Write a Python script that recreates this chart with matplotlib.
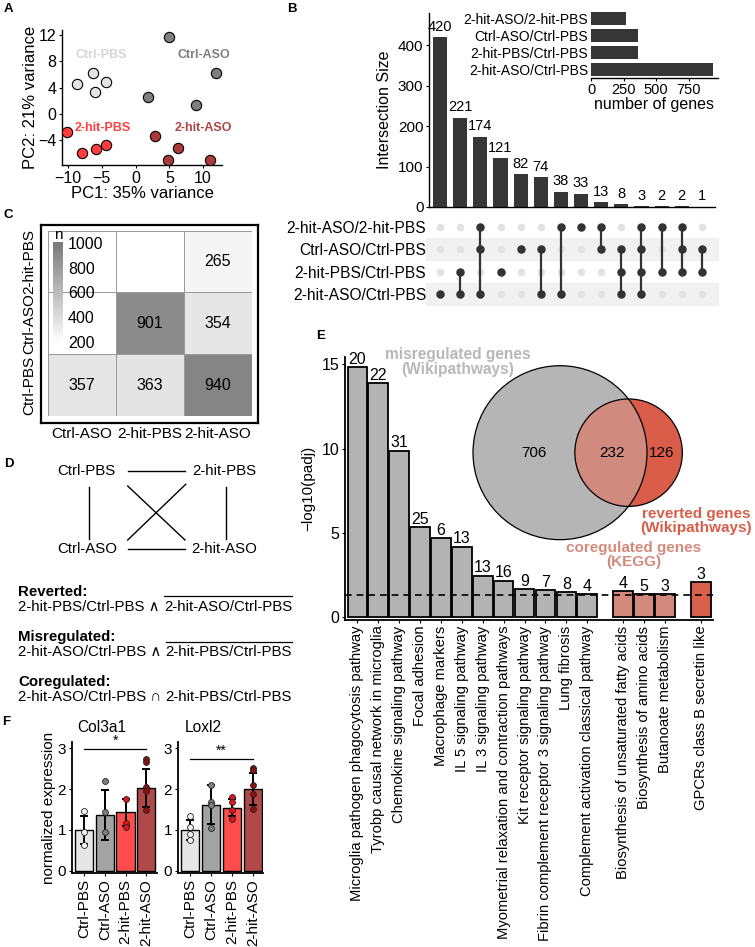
import numpy as np
import matplotlib
matplotlib.use("Agg")
import matplotlib.pyplot as plt
from matplotlib.colors import LinearSegmentedColormap, Normalize
from matplotlib.patches import Circle

plt.rcParams['font.family'] = ['Liberation Sans', 'DejaVu Sans']
plt.rcParams['font.size'] = 9
plt.rcParams['axes.linewidth'] = 1.0

W, H = 755, 947

# ---------------- data ----------------
# A: PCA
pca_group = ["Ctrl-PBS"] * 4 + ["Ctrl-ASO"] * 4 + ["2-hit-PBS"] * 4 + ["2-hit-ASO"] * 4
pc1 = [-8.75, -6.25, -4.4, -6.0, 5.0, 11.85, 1.9, 8.9, -10.1, -8.0, -5.9, -4.35, 2.9, 6.3, 4.75, 11.0]
pc2 = [4.5, 6.3, 4.9, 3.3, 11.8, 6.3, 2.6, 1.3, -2.8, -5.9, -5.4, -4.7, -3.3, -5.2, -7.0, -7.1]
groups = ["Ctrl-PBS", "Ctrl-ASO", "2-hit-PBS", "2-hit-ASO"]
group_colors = ["#e3e3e3", "#7f7f7f", "#ff3d3d", "#ab3a3a"]
label_colors = ["#d6d6d6", "#7f7f7f", "#ff4040", "#b04444"]
label_pos = [(-5.15, 9.0), (10.1, 9.0), (-4.9, -2.1), (10.0, -2.1)]

# B: upset
upset_sets = ["2-hit-ASO/2-hit-PBS", "Ctrl-ASO/Ctrl-PBS", "2-hit-PBS/Ctrl-PBS", "2-hit-ASO/Ctrl-PBS"]
set_sizes = [265, 357, 363, 940]
intersection_sizes = [420, 221, 174, 121, 82, 74, 38, 33, 13, 8, 3, 2, 2, 1]
intersection_members = [[3], [2, 3], [0, 1, 3], [2], [1], [1, 3], [0, 3], [0], [0, 1],
                        [1, 2, 3], [0, 1, 2, 3], [0, 2], [0, 1, 2], [1, 2]]

# C: heatmap (rows bottom -> top)
hm_cols = ["Ctrl-ASO", "2-hit-PBS", "2-hit-ASO"]
hm_rows = ["Ctrl-PBS", "Ctrl-ASO", "2-hit-PBS"]
hm_vals = [[357, 363, 940],
           [np.nan, 901, 354],
           [np.nan, np.nan, 265]]

# E: pathways
pathways = ["Microglia pathogen phagocytosis pathway", "Tyrobp causal network in microglia",
            "Chemokine signaling pathway", "Focal adhesion", "Macrophage markers",
            "IL 5 signaling pathway", "IL 3 signaling pathway",
            "Myometrial relaxation and contraction pathways", "Kit receptor signaling pathway",
            "Fibrin complement receptor 3 signaling pathway", "Lung fibrosis",
            "Complement activation classical pathway", "Biosynthesis of unsaturated fatty acids",
            "Biosynthesis of amino acids", "Butanoate metabolism", "GPCRs class B secretin like"]
neg_log_padj = [14.85, 13.88, 9.87, 5.35, 4.67, 4.18, 2.45, 2.16, 1.64, 1.60, 1.47, 1.37,
                1.53, 1.37, 1.37, 2.08]
gene_counts = [20, 22, 31, 25, 6, 13, 13, 16, 9, 7, 8, 4, 4, 5, 3, 3]
pathway_group = [0] * 12 + [1] * 3 + [2]
pathway_colors = ["#b3b3b3", "#d38a7d", "#d9604b"]
venn_only_mis, venn_both, venn_only_rev = 706, 232, 126

# F: qPCR
f_groups = ["Ctrl-PBS", "Ctrl-ASO", "2-hit-PBS", "2-hit-ASO"]
col3a1_mean = [1.0, 1.37, 1.43, 2.03]
col3a1_sd = [0.35, 0.62, 0.33, 0.47]
col3a1_pts = [[1.47, 0.95, 0.64], [2.21, 1.43, 0.94], [1.76, 1.18, 1.07], [2.73, 2.67, 2.05, 1.95, 1.5]]
loxl2_mean = [1.0, 1.62, 1.55, 2.0]
loxl2_sd = [0.25, 0.47, 0.2, 0.4]
loxl2_pts = [[1.33, 1.07, 0.89, 0.75], [2.11, 1.68, 1.6, 1.06], [1.8, 1.68, 1.48, 1.28],
             [2.52, 2.46, 2.1, 1.87, 1.52]]
bar_colors_f = ["#e6e6e6", "#a3a3a3", "#ff4d4d", "#b04a4a"]
pt_colors_f = ["#f5f5f5", "#7f7f7f", "#e0141e", "#8b1212"]


def px(l, t, r, b):
    return [l / W, 1 - b / H, (r - l) / W, (b - t) / H]


fig = plt.figure(figsize=(W / 100, H / 100), dpi=100)

# ---------------- A ----------------
ax = fig.add_axes(px(62, 30, 222, 165))
for g, c in zip(groups, group_colors):
    idx = [i for i, gg in enumerate(pca_group) if gg == g]
    ax.scatter([pc1[i] for i in idx], [pc2[i] for i in idx], s=55, color=c,
               edgecolor="black", linewidth=0.8, zorder=3)
for g, c, (lx, ly) in zip(groups, label_colors, label_pos):
    ax.text(lx, ly, g, color=c, fontsize=9, fontweight="bold", ha="center", va="center")
ax.set_xlim(-10.9, 12.8)
ax.set_ylim(-7.8, 12.8)
ax.set_xticks([-10, -5, 0, 5, 10])
ax.set_yticks([-4, 0, 4, 8, 12])
ax.tick_params(labelsize=11.5, length=2.5, pad=1.5)
for s in ["top", "right"]:
    ax.spines[s].set_visible(False)
ax.set_xlabel("PC1: 35% variance", fontsize=12, labelpad=0)
ax.set_ylabel("PC2: 21% variance", fontsize=12, labelpad=0)

# ---------------- B ----------------
ncol = len(intersection_sizes)
xs = np.arange(ncol)
axb = fig.add_axes(px(429, 13, 715, 207))
axb.bar(xs, intersection_sizes, width=0.7, color="#363636")
for x, v in zip(xs, intersection_sizes):
    axb.text(x, v + 8, str(v), ha="center", va="bottom", fontsize=10.5)
axb.set_xlim(-0.55, ncol - 1 + 0.65)
axb.set_ylim(0, 480)
axb.set_yticks([0, 100, 200, 300, 400])
axb.set_xticks([])
axb.tick_params(labelsize=11, length=2.5, pad=1.5)
for s in ["top", "right"]:
    axb.spines[s].set_visible(False)
axb.set_ylabel("Intersection Size", fontsize=11.5, labelpad=4)

axi = fig.add_axes(px(591, 10, 718, 78))
axi.barh(range(len(upset_sets)), set_sizes, height=0.82, color="#363636")
axi.set_ylim(len(upset_sets) - 0.5, -0.5)
axi.set_xlim(0, 975)
axi.set_yticks(range(len(upset_sets)))
axi.set_yticklabels(upset_sets, fontsize=10)
axi.set_xticks([0, 250, 500, 750])
axi.tick_params(axis="y", length=0, pad=2)
axi.tick_params(axis="x", labelsize=10.5, length=2.5, pad=1)
for s in ["top", "right", "left"]:
    axi.spines[s].set_visible(False)
axi.set_xlabel("number of genes", fontsize=11.5, labelpad=0)

axm = fig.add_axes(px(429, 216, 715, 305))
for r in range(len(upset_sets)):
    if r % 2 == 1:
        axm.axhspan(r - 0.5, r + 0.5, xmin=-0.01, xmax=1.01, color="#f1f1f1", zorder=0,
                    clip_on=False)
for x, mem in zip(xs, intersection_members):
    inactive = [r for r in range(len(upset_sets)) if r not in mem]
    axm.scatter([x] * len(inactive), inactive, s=20, color="#e2e2e2", zorder=2)
    axm.plot([x, x], [min(mem), max(mem)], color="#333333", lw=1.6, zorder=3)
    axm.scatter([x] * len(mem), mem, s=26, color="#333333", zorder=4)
axm.set_xlim(axb.get_xlim())
axm.set_ylim(len(upset_sets) - 0.5, -0.5)
axm.set_xticks([])
axm.set_yticks(range(len(upset_sets)))
axm.set_yticklabels(upset_sets, fontsize=11.2)
axm.tick_params(axis="y", length=0, pad=2)
for s in axm.spines.values():
    s.set_visible(False)

# ---------------- C ----------------
cmap = LinearSegmentedColormap.from_list("wg", ["#ffffff", "#7b7b7b"])
norm = Normalize(200, 1000)
frame = fig.add_axes(px(41, 224.5, 258, 423.5))
frame.set_xticks([])
frame.set_yticks([])
for s in frame.spines.values():
    s.set_linewidth(1.6)
axc = fig.add_axes(px(47.7, 230.7, 251.7, 416))
vals = np.ma.masked_invalid(np.array(hm_vals, dtype=float))
axc.pcolormesh(np.arange(4), np.arange(4), vals, cmap=cmap, norm=norm,
               edgecolors="#9a9a9a", linewidth=0.6)
for i in range(3):
    for j in range(3):
        if not np.isnan(hm_vals[i][j]):
            axc.text(j + 0.5, i + 0.5, str(int(hm_vals[i][j])), ha="center", va="center",
                     fontsize=11.5)
axc.set_xlim(0, 3)
axc.set_ylim(0, 3)
axc.set_xticks(np.arange(3) + 0.5)
axc.set_xticklabels(hm_cols, fontsize=11)
axc.set_yticks(np.arange(3) + 0.5)
axc.set_yticklabels(hm_rows, fontsize=11, rotation=90, va="center")
axc.tick_params(length=0, pad=8)
axc.tick_params(axis="y", pad=8)
for s in axc.spines.values():
    s.set_visible(False)

axcb = fig.add_axes(px(53, 241.7, 63, 346.7))
grad = np.linspace(159, 1013, 256).reshape(-1, 1)
axcb.imshow(grad, cmap=cmap, norm=norm, aspect="auto", origin="lower",
            extent=[0, 1, 159, 1013])
axcb.set_ylim(159, 1013)
axcb.set_xticks([])
axcb.yaxis.tick_right()
axcb.set_yticks([200, 400, 600, 800, 1000])
axcb.tick_params(axis="y", length=0, pad=3.5, labelsize=11.5)
for s in axcb.spines.values():
    s.set_visible(False)
axcb.set_title("n", fontsize=11, pad=0)

# ---------------- E ----------------
axe = fig.add_axes(px(345, 357.3, 713.3, 620))
pos = np.array([i + 0.72 * g for i, g in enumerate(pathway_group)])
cols = [pathway_colors[g] for g in pathway_group]
axe.bar(pos, neg_log_padj, width=0.94, color=cols, edgecolor="black", linewidth=1.3, zorder=2)
for x, v, n in zip(pos, neg_log_padj, gene_counts):
    axe.text(x, v + 0.02, str(n), ha="center", va="bottom", fontsize=11.5)
axe.axhline(-np.log10(0.05), color="black", lw=1.2, ls=(0, (4, 3)), zorder=3)
axe.set_xlim(-0.59, pos[-1] + 0.59)
axe.set_ylim(-0.18, 15.42)
axe.set_yticks([0, 5, 10, 15])
axe.set_xticks(pos)
axe.set_xticklabels(pathways, rotation=90)
axe.tick_params(labelsize=11.5, length=2.5, pad=1.5)
axe.tick_params(axis="x", labelsize=10.6)
for s in ["top", "right"]:
    axe.spines[s].set_visible(False)
axe.spines["left"].set_linewidth(1.3)
axe.spines["bottom"].set_linewidth(1.3)
axe.set_ylabel("\u2212log10(padj)", fontsize=11, labelpad=5)


# ---------------- F ----------------
def qpcr(rect, means, sds, pts, sig, sig_y):
    a = fig.add_axes(px(*rect))
    x = np.arange(len(f_groups))
    a.bar(x, means, width=0.88, color=bar_colors_f, edgecolor="black", linewidth=1.0, zorder=2)
    a.errorbar(x, means, yerr=sds, fmt="none", ecolor="black", elinewidth=1.4, capsize=3,
               capthick=1.4, zorder=3)
    for xi, p, c in zip(x, pts, pt_colors_f):
        a.scatter([xi] * len(p), p, s=18, color=c, edgecolor="#222222", linewidth=0.6, zorder=4)
    a.plot([0, 3], [sig_y, sig_y], color="black", lw=0.9)
    a.text(1.5, sig_y + 0.02, sig, ha="center", va="bottom", fontsize=10)
    a.set_xlim(-0.6, 3.5)
    a.set_ylim(-0.06, 3.16)
    a.set_yticks([0, 1, 2, 3])
    a.set_xticks(x)
    a.set_xticklabels(f_groups, rotation=90, fontsize=11)
    a.tick_params(labelsize=11, length=2.5, pad=1.5)
    for s in ["top", "right"]:
        a.spines[s].set_visible(False)
    a.spines["left"].set_linewidth(1.3)
    a.spines["bottom"].set_linewidth(1.3)
    return a


axf1 = qpcr((71.7, 741.7, 156.7, 873.3), col3a1_mean, col3a1_sd, col3a1_pts, "*", 2.98)
axf1.set_ylabel("normalized expression", fontsize=11, labelpad=1)
axf2 = qpcr((177.7, 741.7, 263.3, 873.3), loxl2_mean, loxl2_sd, loxl2_pts, "**", 2.74)

# ---------------- overlay: labels, D, Venn ----------------
ov = fig.add_axes([0, 0, 1, 1])
ov.set_xlim(0, W)
ov.set_ylim(H, 0)
ov.axis("off")

for lab, (x, y) in zip("ABCDEF", [(4, 9), (287, 9), (4, 215), (4, 464), (316, 336), (2, 722)]):
    ov.text(x, y, lab, fontsize=9.5, fontweight="bold", ha="left", va="center")

ov.text(101.7, 727.3, "Col3a1", fontsize=11.2, ha="center", va="center")
ov.text(203.3, 727.3, "Loxl2", fontsize=11.2, ha="center", va="center")

# D: comparison diagram
for name, (x, y) in zip(groups, [(86.7, 470.7), (87.3, 549.3), (224, 470.7), (224, 549.3)]):
    ov.text(x, y, name, fontsize=10.8, ha="center", va="center")
lk = dict(color="black", lw=1.0)
ov.plot([127.7, 185], [470.7, 470.7], **lk)
ov.plot([127.7, 185], [549.3, 549.3], **lk)
ov.plot([89, 89], [486.7, 539.3], **lk)
ov.plot([226, 226], [486.7, 539.3], **lk)
ov.plot([127.7, 185], [486, 540], **lk)
ov.plot([127.7, 185.7], [540, 484.3], **lk)

renderer = fig.canvas.get_renderer()
rules = [("Reverted:", "2-hit-PBS/Ctrl-PBS \u2227", "2-hit-ASO/Ctrl-PBS", True),
         ("Misregulated:", "2-hit-ASO/Ctrl-PBS \u2227", "2-hit-PBS/Ctrl-PBS", True),
         ("Coregulated:", "2-hit-ASO/Ctrl-PBS \u2229", "2-hit-PBS/Ctrl-PBS", False)]
for k, (head, a, b, bar) in enumerate(rules):
    y0 = 591.7 + k * 45.3
    ov.text(18.3, y0, head, fontsize=10.8, fontweight="bold", ha="left", va="center")
    t1 = ov.text(18.3, y0 + 15, a, fontsize=10.8, ha="left", va="center")
    bb = t1.get_window_extent(renderer=renderer)
    t2 = ov.text(bb.x1 + 4, y0 + 15, b, fontsize=10.8, ha="left", va="center")
    if bar:
        bb2 = t2.get_window_extent(renderer=renderer)
        ov.plot([bb2.x0, bb2.x1], [y0 + 4.5, y0 + 4.5], color="black", lw=0.9)


# Venn (area proportional)
def lens_area(r1, r2, d):
    a1 = r1 ** 2 * np.arccos((d ** 2 + r1 ** 2 - r2 ** 2) / (2 * d * r1))
    a2 = r2 ** 2 * np.arccos((d ** 2 + r2 ** 2 - r1 ** 2) / (2 * d * r2))
    a3 = 0.5 * np.sqrt((-d + r1 + r2) * (d + r1 - r2) * (d - r1 + r2) * (d + r1 + r2))
    return a1 + a2 - a3


r_mis = np.sqrt((venn_only_mis + venn_both) / np.pi)
r_rev = np.sqrt((venn_only_rev + venn_both) / np.pi)
lo, hi = abs(r_mis - r_rev) + 1e-6, r_mis + r_rev - 1e-6
for _ in range(60):
    mid = (lo + hi) / 2
    if lens_area(r_mis, r_rev, mid) > venn_both:
        lo = mid
    else:
        hi = mid
scale = 87.0 / r_mis
cx1, cy = 560.0, 452.7
cx2 = cx1 + mid * scale
c_mis = Circle((cx1, cy), r_mis * scale, fc="#b5b5b5", ec="none", zorder=5)
c_rev = Circle((cx2, cy), r_rev * scale, fc="#d95d48", ec="none", zorder=6)
ov.add_patch(c_mis)
ov.add_patch(c_rev)
c_ov = Circle((cx2, cy), r_rev * scale, fc="#d08a7e", ec="none", zorder=7)
ov.add_patch(c_ov)
c_ov.set_clip_path(c_mis)
ov.add_patch(Circle((cx1, cy), r_mis * scale, fc="none", ec="black", lw=0.9, zorder=8))
ov.add_patch(Circle((cx2, cy), r_rev * scale, fc="none", ec="black", lw=0.9, zorder=8))
ov.text(534, cy, str(venn_only_mis), fontsize=11, ha="center", va="center", zorder=9)
ov.text(612, cy, str(venn_both), fontsize=11, ha="center", va="center", zorder=9)
ov.text(661.7, cy, str(venn_only_rev), fontsize=11, ha="center", va="center", zorder=9)

ov.text(458, 362, "misregulated genes\n(Wikipathways)", color="#b8b8b8", fontsize=11.2,
        fontweight="bold", ha="center", va="center", linespacing=1.0)
ov.text(752, 520.5, "reverted genes\n(Wikipathways)", color="#d95d48", fontsize=11,
        fontweight="bold", ha="right", va="center", linespacing=1.0, multialignment="center")
ov.text(634, 555, "coregulated genes\n(KEGG)", color="#d38a7d", fontsize=11,
        fontweight="bold", ha="center", va="center", linespacing=1.0)

fig.savefig("out.png", dpi=100)
